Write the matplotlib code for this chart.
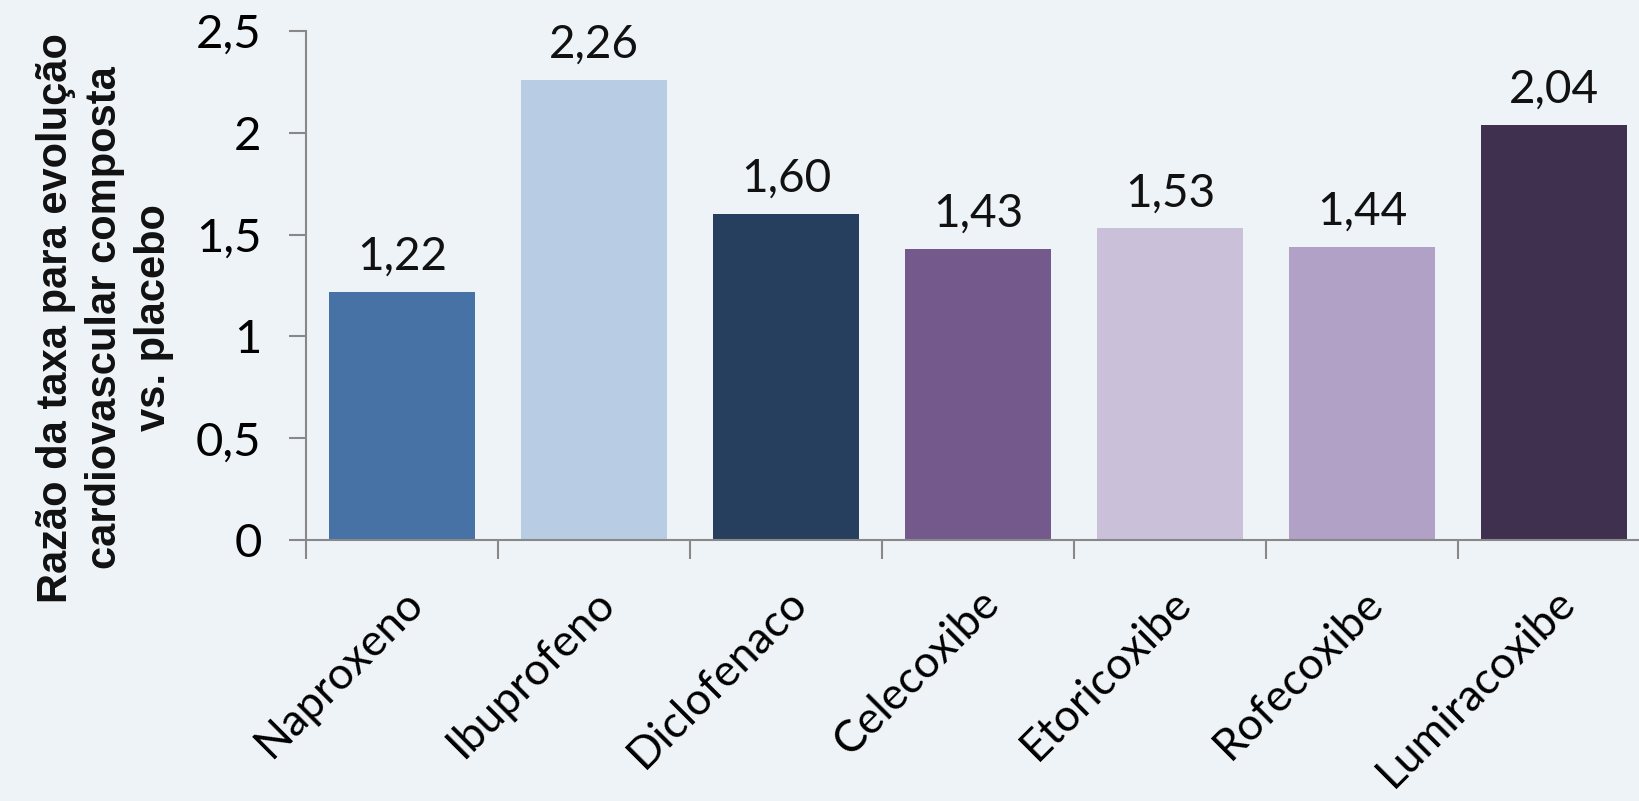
import matplotlib
matplotlib.use("Agg")
import matplotlib.pyplot as plt

categories = ["Naproxeno", "Ibuprofeno", "Diclofenaco", "Celecoxibe",
              "Etoricoxibe", "Rofecoxibe", "Lumiracoxibe"]
values = [1.22, 2.26, 1.60, 1.43, 1.53, 1.44, 2.04]
value_labels = ["1,22", "2,26", "1,60", "1,43", "1,53", "1,44", "2,04"]
colors = ["#4672A6", "#B8CCE4", "#263F5F", "#74598D",
          "#CBC0DA", "#B1A1C7", "#3F3050"]
yticks = [0, 0.5, 1, 1.5, 2, 2.5]
ytick_labels = ["0", "0,5", "1", "1,5", "2", "2,5"]
ylabel = "Razão da taxa para evolução\ncardiovascular composta\nvs. placebo"

bg = "#EEF3F7"
W, H = 1640, 801
fig = plt.figure(figsize=(W / 100, H / 100), dpi=100, facecolor=bg)
left, right_px, top, bottom = 306, 306 + 7 * 192, 31, 540
ax = fig.add_axes([left / W, 1 - bottom / H, (right_px - left) / W, (bottom - top) / H])
ax.set_facecolor(bg)

x = list(range(len(categories)))
ax.bar(x, values, width=0.76, color=colors, zorder=2)
ax.set_xlim(-0.5, len(categories) - 0.5)
ax.set_ylim(0, 2.5)

font = ["Lato", "DejaVu Sans"]
for xi, v, lab in zip(x, values, value_labels):
    ax.text(xi, v + 0.07, lab, ha="center", va="bottom", fontsize=33,
            family=font, color="#111111")

ax.set_yticks(yticks)
ax.set_yticklabels(ytick_labels, fontsize=34, family=font)
ax.set_xticks([i - 0.5 for i in range(len(categories) + 1)], minor=False)
ax.set_xticklabels([])
ax.set_xticks(x, minor=True)
ax.set_xticklabels(categories, minor=True, rotation=45, ha="right",
                   rotation_mode="anchor", fontsize=32, family=font)
ax.tick_params(axis="x", which="minor", length=0, pad=30)
ax.tick_params(axis="x", which="major", length=14, color="#888888", width=1.5, direction="out")
ax.tick_params(axis="y", length=12, color="#888888", width=1.5, pad=20)

for s in ["top", "right"]:
    ax.spines[s].set_visible(False)
for s in ["left", "bottom"]:
    ax.spines[s].set_color("#888888")
    ax.spines[s].set_linewidth(1.5)

fig.text(105 / W, 1 - 318 / H, ylabel, rotation=90, ha="center", va="center",
         fontsize=30, fontweight="bold", family=["Liberation Sans", "DejaVu Sans"],
         linespacing=1.3, color="#111111")

fig.savefig("out.png", dpi=100, facecolor=bg)
